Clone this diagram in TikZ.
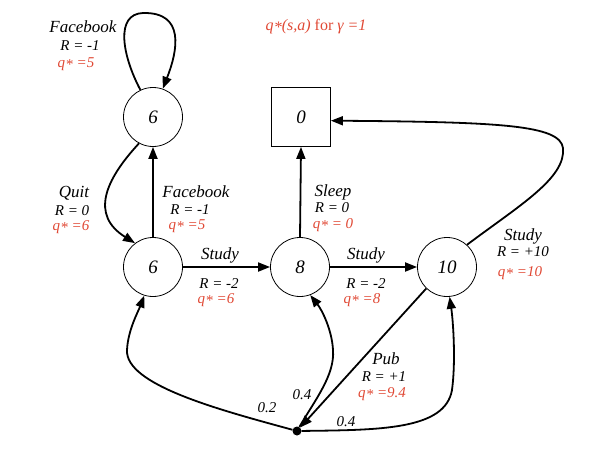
\documentclass[tikz,border=0pt]{standalone}
\usepackage{fontspec}
\setmainfont{Liberation Serif}
\usetikzlibrary{arrows.meta}
\definecolor{qred}{RGB}{224,72,52}
\newcommand\qst{q\kern0.3pt\raisebox{-0.35ex}{*}}
\tikzset{
  state/.style={circle,draw,line width=0.8pt,minimum size=59pt,inner sep=0pt,font=\fontsize{19}{22}\selectfont\itshape},
  term/.style={rectangle,draw,line width=0.8pt,minimum size=59pt,inner sep=0pt,font=\fontsize{19}{22}\selectfont\itshape},
  dotnode/.style={circle,fill,minimum size=9pt,inner sep=0pt},
  arr/.style={line width=1.8pt,-{Triangle[length=12pt,width=9pt]}},
  act/.style={anchor=base,inner sep=0pt,font=\fontsize{17}{20}\selectfont\itshape},
  rw/.style={anchor=base,inner sep=0pt,font=\fontsize{15}{18}\selectfont\itshape},
  qv/.style={anchor=base,inner sep=0pt,text=qred,font=\fontsize{15}{18}\selectfont\itshape},
  prob/.style={anchor=base,inner sep=0pt,font=\fontsize{15}{18}\selectfont\itshape},
  ttl/.style={anchor=base,inner sep=0pt,text=qred,font=\fontsize{16}{19}\selectfont\itshape}
}
\begin{document}
\begin{tikzpicture}[x=1pt,y=-1pt]
\useasboundingbox (0,0) rectangle (611,453);
% states
\node[state] (fb) at (153,117) {6};
\node[state] (c1) at (153,267) {6};
\node[state] (c2) at (300,267) {8};
\node[state] (c3) at (447,267) {10};
\node[term] (sl) at (301,117) {0};
\node[dotnode] (pub) at (297,431) {};
% title
\node[ttl] (title) at (316,30) {\qst(s,a) \upshape for \itshape γ =1};
% connectors
\draw[arr] (fb.115) .. controls (122,55) and (115,14) .. (143,13) .. controls (185,12) and (178,50) .. (fb.71);
\draw[arr] (fb.242) .. controls (105,180) and (90,215) .. (c1.127);
\draw[arr] (c1.north) -- (fb.south);
\draw[arr] (c1.east) -- (c2.west);
\draw[arr] (c2.east) -- (c3.west);
\draw[arr] (c2.north) -- (sl.south);
\draw[arr] (c3.48) .. controls (520,205) and (566,178) .. (563,148) .. controls (560,125) and (500,122) .. (sl.-7);
\draw[arr] (c3.226) -- (pub);
\draw[arr] (pub) .. controls (220,410) and (125,385) .. (127,350) .. controls (128,330) and (138,312) .. (c1.253);
\draw[arr] (pub) .. controls (315,400) and (335,375) .. (333,350) .. controls (332,330) and (322,310) .. (c2.290);
\draw[arr] (pub) .. controls (380,430) and (445,430) .. (452,390) .. controls (456,360) and (453,320) .. (c3.275);
% labels: facebook loop
\node[act] (l1a) at (83,32) {Facebook};
\node[rw] (l1b) at (80,50) {R = -1};
\node[qv] (l1c) at (76,67) {\qst\ =5};
% quit
\node[act] (l2a) at (74,197) {Quit};
\node[rw] (l2b) at (72,215) {R = 0};
\node[qv] (l2c) at (71,230) {\qst\ =6};
% facebook up
\node[act] (l3a) at (196,197) {Facebook};
\node[rw] (l3b) at (190,214) {R = -1};
\node[qv] (l3c) at (187,229) {\qst\ =5};
% study 1
\node[act] (l4a) at (220,259) {Study};
\node[rw] (l4b) at (219,288) {R = -2};
\node[qv] (l4c) at (216,303) {\qst\ =6};
% sleep
\node[act] (l5a) at (333,196) {Sleep};
\node[rw] (l5b) at (332,212) {R = 0};
\node[qv] (l5c) at (333,228) {\qst\ = 0};
% study 2
\node[act] (l6a) at (366,259) {Study};
\node[rw] (l6b) at (366,288) {R = -2};
\node[qv] (l6c) at (362,303) {\qst\ =8};
% study 3
\node[act] (l7a) at (523,240) {Study};
\node[rw] (l7b) at (523,256) {R = +10};
\node[qv] (l7c) at (520,276) {\qst\ =10};
% pub
\node[act] (l8a) at (386,364) {Pub};
\node[rw] (l8b) at (384,381) {R = +1};
\node[qv] (l8c) at (382,397) {\qst\ =9.4};
% probabilities
\node[prob] (p1) at (267,412) {0.2};
\node[prob] (p2) at (302,399) {0.4};
\node[prob] (p3) at (346,426) {0.4};
\end{tikzpicture}
\end{document}
